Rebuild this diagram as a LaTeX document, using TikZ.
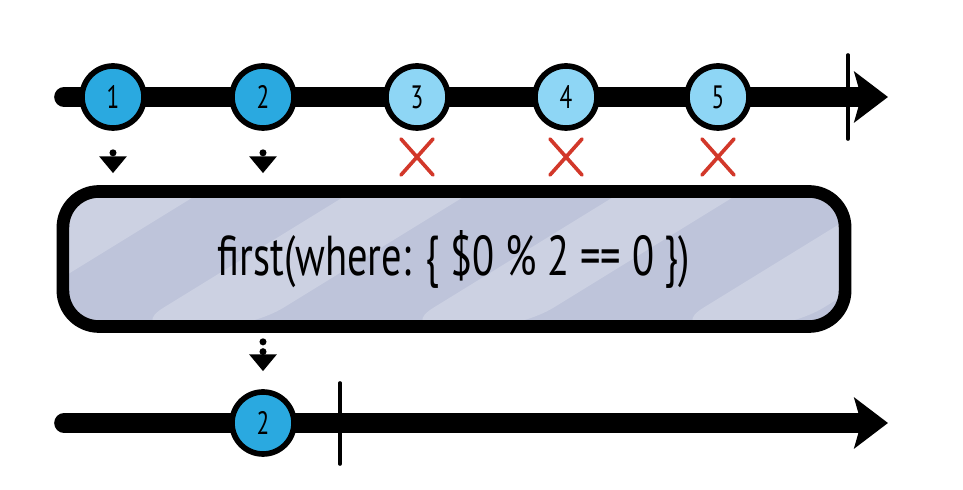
\documentclass[tikz,border=0pt]{standalone}
\usepackage{fontspec}
\newfontfamily\handfont[FakeStretch=0.72]{PT Sans}
\usetikzlibrary{arrows.meta}

\definecolor{marbleOn}{HTML}{2AA9E0}
\definecolor{marbleOff}{HTML}{8ED6F5}
\definecolor{crossRed}{HTML}{D2382A}
\definecolor{boxFill}{HTML}{BEC4DA}
\definecolor{boxStripe}{HTML}{CCD1E2}

\tikzset{
  timeline/.style={line width=14pt, line cap=round,
    -{Stealth[length=24pt,width=36pt,inset=5pt]}},
  marble/.style={circle, draw=black, line width=4pt, minimum size=1.55cm,
    inner sep=0pt, font=\handfont\fontsize{23}{23}\selectfont},
  emitted/.style={marble, fill=marbleOn},
  dropped/.style={marble, fill=marbleOff},
  endbar/.style={line width=2.6pt, line cap=round},
  crossmark/.style={draw=crossRed, line width=2.6pt, line cap=round},
  passarrow/.style={line width=5pt, line cap=round,
    dash pattern=on 0pt off 7pt, -{Triangle[length=12pt,width=19pt]}},
  operator/.style={rectangle, rounded corners=0.9cm, draw=black,
    line width=9pt, fill=boxFill, minimum width=19.55cm,
    minimum height=3.375cm, font=\handfont\fontsize{40}{40}\selectfont,
    path picture={
      \foreach \s in {-200,70,340,610,880}
        \fill[boxStripe] ([xshift=\s*0.025cm]path picture bounding box.south west)
          -- ++(120,0) -- ++(260,-160) -- ++(-120,0) -- cycle;
    }},
}

\begin{document}
\begin{tikzpicture}[x=0.025cm,y=-0.025cm]
  \useasboundingbox (0,0) rectangle (963,490);

  % Input timeline
  \coordinate (in0) at (64,97);
  \coordinate (in1) at (888,97);
  \draw[timeline] (in0) -- (in1);
  \draw[endbar] (848,55) -- (848,139);

  % Input marbles
  \node[emitted] (m1) at (113,97) {1};
  \node[emitted] (m2) at (263,97) {2};
  \node[dropped] (m3) at (417,97) {3};
  \node[dropped] (m4) at (566,97) {4};
  \node[dropped] (m5) at (718,97) {5};

  % Dropped values
  \foreach \i in {3,4,5} {
    \draw[crossmark] ([shift={(-16,42)}]m\i.center) -- ++(32,36)
                     ([shift={(16,42)}]m\i.center) -- ++(-32,36);
  }

  % Operator
  \node[operator] (op) at (454,259) {first(where: \{ \$0 \% 2 == 0 \})};

  \draw[passarrow, shorten <=22*0.025cm, shorten >=12*0.025cm]
    (m1.south) -- (m1.south |- op.north);
  \draw[passarrow, shorten <=22*0.025cm, shorten >=12*0.025cm]
    (m2.south) -- (m2.south |- op.north);

  % Output timeline
  \coordinate (out0) at (64,423);
  \coordinate (out1) at (888,423);
  \draw[timeline] (out0) -- (out1);
  \draw[endbar] (340,383) -- (340,464);

  \node[emitted] (r2) at (263,423) {2};

  \draw[passarrow, shorten <=9*0.025cm, shorten >=18*0.025cm]
    (r2.north |- op.south) -- (r2.north);

\end{tikzpicture}
\end{document}
